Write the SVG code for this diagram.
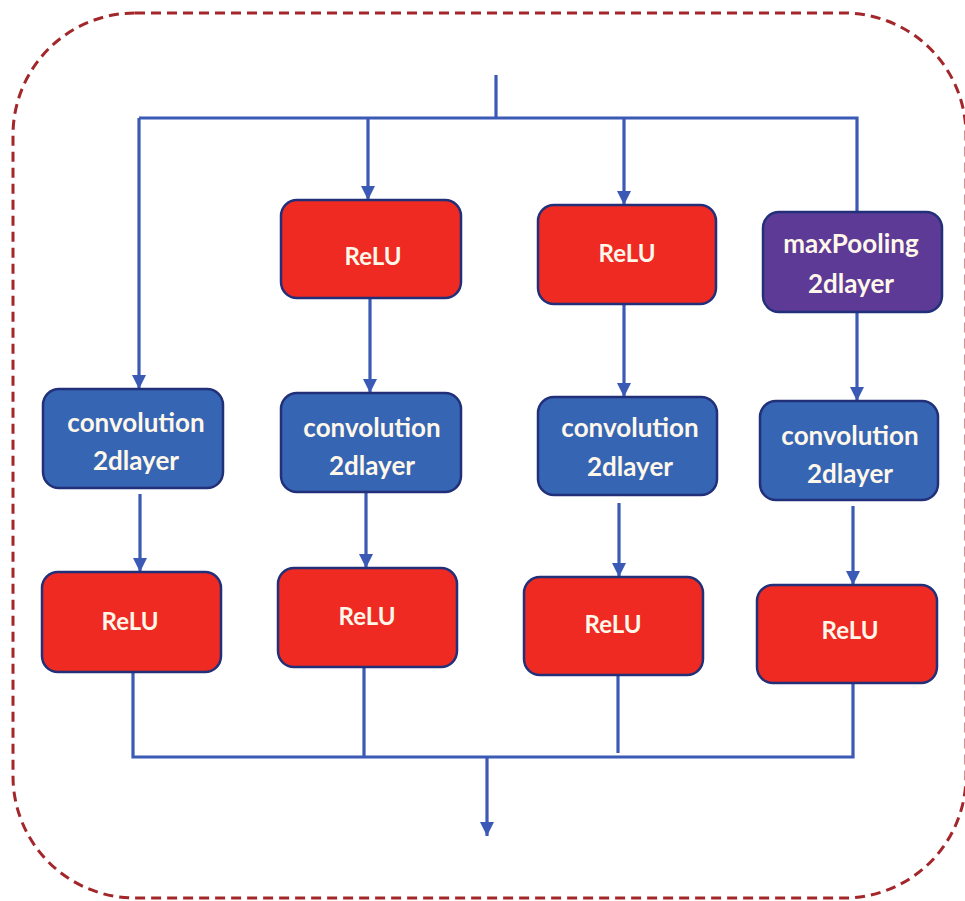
<svg xmlns="http://www.w3.org/2000/svg" width="965" height="901" viewBox="0 0 965 901">
<style>
.frame{fill:none;stroke:#A3262A;stroke-width:3;stroke-dasharray:10 6}
.box{stroke:#22307A;stroke-width:2.5}
.relu{fill:#EE2A22}
.conv{fill:#3565B3}
.pool{fill:#5D3A96}
.lbl{font-family:Lato,"Liberation Sans",sans-serif;font-weight:bold;font-size:26px;fill:#FFF7EA;text-anchor:middle}
.sm{font-size:24px}
.wire{fill:none;stroke:#3A5AB5;stroke-width:3.2}
</style>
<defs>
<marker id="arr" markerUnits="userSpaceOnUse" markerWidth="14" markerHeight="14" refX="14" refY="7" orient="auto">
<path d="M0,0 L14,7 L0,14 z" fill="#3A5AB5"/>
</marker>
</defs>
<rect class="frame" x="13" y="13" width="953" height="885" rx="122" ry="122"/>
<g id="connectors">
<path class="wire" d="M496,75 V118"/>
<path class="wire" d="M139,118 H857 V212"/>
<path class="wire" d="M139,118 V389" marker-end="url(#arr)"/>
<path class="wire" d="M368,118 V200" marker-end="url(#arr)"/>
<path class="wire" d="M624,118 V205" marker-end="url(#arr)"/>
<path class="wire" d="M370,298 V393" marker-end="url(#arr)"/>
<path class="wire" d="M624,304 V397" marker-end="url(#arr)"/>
<path class="wire" d="M857,312 V401" marker-end="url(#arr)"/>
<path class="wire" d="M140,494 V572" marker-end="url(#arr)"/>
<path class="wire" d="M366,492 V568" marker-end="url(#arr)"/>
<path class="wire" d="M619,503 V577" marker-end="url(#arr)"/>
<path class="wire" d="M853,506 V585" marker-end="url(#arr)"/>
<path class="wire" d="M133,672 V757 H853 V683"/>
<path class="wire" d="M364,667 V757"/>
<path class="wire" d="M618,675 V753"/>
<path class="wire" d="M487,757 V836" marker-end="url(#arr)"/>
</g>
<g id="relu_a">
<rect class="box relu" x="281" y="200" width="180" height="98" rx="16"/>
<text class="lbl sm" x="373" y="265">ReLU</text>
</g>
<g id="relu_b">
<rect class="box relu" x="538" y="205" width="178" height="99" rx="16"/>
<text class="lbl sm" x="627" y="262">ReLU</text>
</g>
<g id="maxpool">
<rect class="box pool" x="763" y="212" width="179" height="100" rx="16"/>
<text class="lbl" x="851" y="253">maxPooling</text>
<text class="lbl" x="851" y="293">2dlayer</text>
</g>
<g id="conv1">
<rect class="box conv" x="43" y="389" width="180" height="99" rx="16"/>
<text class="lbl" x="136" y="432">convolution</text>
<text class="lbl" x="136" y="470">2dlayer</text>
</g>
<g id="conv2">
<rect class="box conv" x="281" y="393" width="180" height="99" rx="16"/>
<text class="lbl" x="372" y="437">convolution</text>
<text class="lbl" x="372" y="475">2dlayer</text>
</g>
<g id="conv3">
<rect class="box conv" x="538" y="397" width="179" height="98" rx="16"/>
<text class="lbl" x="630" y="437">convolution</text>
<text class="lbl" x="630" y="476">2dlayer</text>
</g>
<g id="conv4">
<rect class="box conv" x="760" y="401" width="178" height="99" rx="16"/>
<text class="lbl" x="850" y="445">convolution</text>
<text class="lbl" x="850" y="483">2dlayer</text>
</g>
<g id="relu1">
<rect class="box relu" x="42" y="572" width="179" height="100" rx="16"/>
<text class="lbl sm" x="130" y="630">ReLU</text>
</g>
<g id="relu2">
<rect class="box relu" x="278" y="568" width="179" height="99" rx="16"/>
<text class="lbl sm" x="367" y="625">ReLU</text>
</g>
<g id="relu3">
<rect class="box relu" x="524" y="577" width="179" height="98" rx="16"/>
<text class="lbl sm" x="613" y="633">ReLU</text>
</g>
<g id="relu4">
<rect class="box relu" x="757" y="585" width="180" height="98" rx="16"/>
<text class="lbl sm" x="850" y="639">ReLU</text>
</g>
</svg>
